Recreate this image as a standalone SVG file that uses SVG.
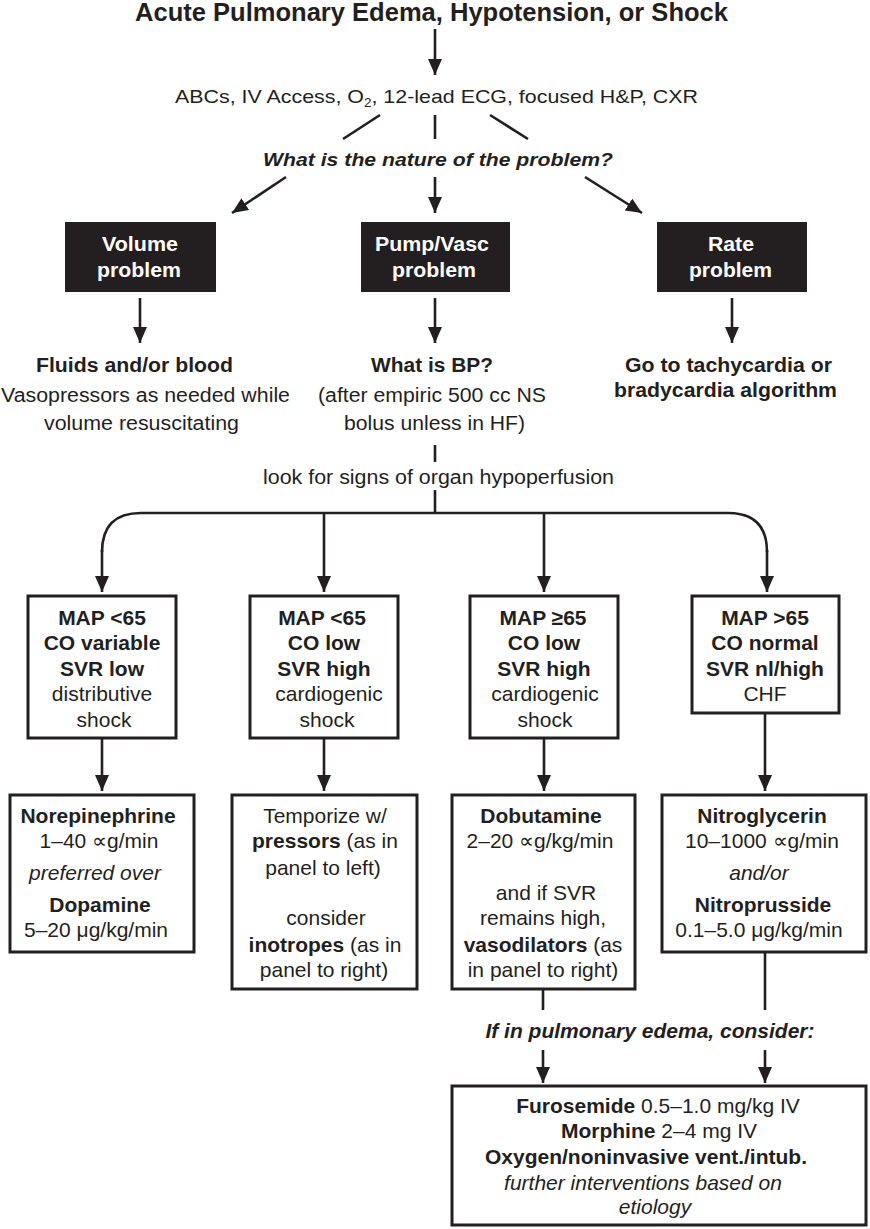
<svg xmlns="http://www.w3.org/2000/svg" width="870" height="1229" viewBox="0 0 870 1229">
<defs>
<style>
text{font-family:"Liberation Sans",Arial,sans-serif;fill:#231f20;}
.b{font-weight:bold;}
.i{font-style:italic;}
.w{fill:#ffffff;}
.c{text-anchor:middle;font-size:21px;}
.box{fill:#ffffff;stroke:#231f20;stroke-width:3;}
.dark{fill:#231f20;}
.ln{stroke:#231f20;stroke-width:2.6;fill:none;}
.ar{stroke:#231f20;stroke-width:2.6;fill:none;marker-end:url(#ah);}
</style>
<marker id="ah" viewBox="0 0 16 14" refX="16" refY="7" markerWidth="16" markerHeight="14" markerUnits="userSpaceOnUse" orient="auto">
<path d="M0,0 L16,7 L0,14 Z" fill="#231f20"/>
</marker>
</defs>
<rect width="870" height="1229" fill="#ffffff"/>

<g id="connectors">
<line class="ar" x1="435" y1="29" x2="435" y2="75"/>
<line class="ln" x1="380" y1="115" x2="343" y2="139"/>
<line class="ln" x1="435" y1="115" x2="435" y2="139"/>
<line class="ln" x1="490" y1="115" x2="528" y2="139"/>
<line class="ar" x1="286" y1="177" x2="232" y2="213"/>
<line class="ar" x1="435" y1="177" x2="435" y2="213"/>
<line class="ar" x1="585" y1="177" x2="642" y2="213"/>
<line class="ar" x1="140" y1="298" x2="140" y2="343"/>
<line class="ar" x1="435" y1="298" x2="435" y2="343"/>
<line class="ar" x1="732" y1="298" x2="732" y2="343"/>
<line class="ln" x1="435" y1="445" x2="435" y2="462"/>
<line class="ln" x1="435" y1="490" x2="435" y2="513"/>
<path class="ln" d="M102 552 Q102 513 141 513 L728 513 Q767 513 767 552"/>
<line class="ar" x1="102" y1="550" x2="102" y2="592"/>
<line class="ar" x1="324" y1="513" x2="324" y2="592"/>
<line class="ar" x1="544" y1="513" x2="544" y2="592"/>
<line class="ar" x1="767" y1="550" x2="767" y2="592"/>
<line class="ar" x1="102" y1="738" x2="102" y2="791"/>
<line class="ar" x1="324" y1="738" x2="324" y2="791"/>
<line class="ar" x1="544" y1="738" x2="544" y2="791"/>
<line class="ar" x1="765" y1="713" x2="765" y2="791"/>
<line class="ln" x1="543" y1="989" x2="543" y2="1010"/>
<line class="ln" x1="765" y1="952" x2="765" y2="1010"/>
<line class="ar" x1="543" y1="1050" x2="543" y2="1083"/>
<line class="ar" x1="765" y1="1050" x2="765" y2="1083"/>
</g>

<g id="title">
<text class="b" x="135" y="21" font-size="25" textLength="593" lengthAdjust="spacingAndGlyphs">Acute Pulmonary Edema, Hypotension, or Shock</text>
</g>

<g id="initial">
<text x="175" y="103" font-size="19" textLength="523" lengthAdjust="spacingAndGlyphs">ABCs, IV Access, O<tspan font-size="12" dy="4">2</tspan><tspan dy="-4">, 12-lead ECG, focused H&amp;P, CXR</tspan></text>
</g>

<g id="question">
<text class="b i" x="263" y="166" font-size="19" textLength="350" lengthAdjust="spacingAndGlyphs">What is the nature of the problem?</text>
</g>

<g id="volume-problem">
<rect class="dark" x="65" y="222" width="151" height="70"/>
<text class="b w" x="102" y="251" font-size="21" textLength="76" lengthAdjust="spacingAndGlyphs">Volume</text>
<text class="b w" x="97" y="277" font-size="21" textLength="84" lengthAdjust="spacingAndGlyphs">problem</text>
</g>

<g id="pump-problem">
<rect class="dark" x="361" y="222" width="149" height="70"/>
<text class="b w" x="375" y="251" font-size="21" textLength="114" lengthAdjust="spacingAndGlyphs">Pump/Vasc</text>
<text class="b w" x="392" y="277" font-size="21" textLength="84" lengthAdjust="spacingAndGlyphs">problem</text>
</g>

<g id="rate-problem">
<rect class="dark" x="657" y="222" width="150" height="70"/>
<text class="b w" x="708" y="251" font-size="21" textLength="46" lengthAdjust="spacingAndGlyphs">Rate</text>
<text class="b w" x="689" y="277" font-size="21" textLength="83" lengthAdjust="spacingAndGlyphs">problem</text>
</g>

<g id="fluids">
<text class="b" x="36" y="372" font-size="20" textLength="197" lengthAdjust="spacingAndGlyphs">Fluids and/or blood</text>
<text x="1" y="402" font-size="19.5" textLength="289" lengthAdjust="spacingAndGlyphs">Vasopressors as needed while</text>
<text x="44" y="430" font-size="19.5" textLength="195" lengthAdjust="spacingAndGlyphs">volume resuscitating</text>
</g>

<g id="what-bp">
<text class="b" x="371" y="372" font-size="20" textLength="122" lengthAdjust="spacingAndGlyphs">What is BP?</text>
<text x="318" y="402" font-size="19.5" textLength="228" lengthAdjust="spacingAndGlyphs">(after empiric 500 cc NS</text>
<text x="344" y="430" font-size="19.5" textLength="181" lengthAdjust="spacingAndGlyphs">bolus unless in HF)</text>
</g>

<g id="rate-go">
<text class="b" x="625" y="372" font-size="20" textLength="207" lengthAdjust="spacingAndGlyphs">Go to tachycardia or</text>
<text class="b" x="614" y="397" font-size="20" textLength="223" lengthAdjust="spacingAndGlyphs">bradycardia algorithm</text>
</g>

<g id="hypoperfusion">
<text x="263" y="484" font-size="19.5" textLength="351" lengthAdjust="spacingAndGlyphs">look for signs of organ hypoperfusion</text>
</g>

<g id="distributive">
<rect class="box" x="28" y="596" width="148" height="142"/>
<text class="c b" x="102" y="625">MAP &lt;65</text>
<text class="c b" x="102" y="650">CO variable</text>
<text class="c b" x="102" y="676">SVR low</text>
<text class="c" x="102" y="701">distributive</text>
<text class="c" x="104" y="727">shock</text>
</g>

<g id="cardiogenic1">
<rect class="box" x="250" y="596" width="148" height="142"/>
<text class="c b" x="322" y="625">MAP &lt;65</text>
<text class="c b" x="324" y="650">CO low</text>
<text class="c b" x="324" y="676">SVR high</text>
<text class="c" x="329" y="701">cardiogenic</text>
<text class="c" x="327" y="727">shock</text>
</g>

<g id="cardiogenic2">
<rect class="box" x="470" y="596" width="148" height="142"/>
<text class="c b" x="543" y="625">MAP ≥65</text>
<text class="c b" x="544" y="650">CO low</text>
<text class="c b" x="544" y="676">SVR high</text>
<text class="c" x="545" y="701">cardiogenic</text>
<text class="c" x="545" y="727">shock</text>
</g>

<g id="chf">
<rect class="box" x="692" y="596" width="147" height="117"/>
<text class="c b" x="765" y="625">MAP &gt;65</text>
<text class="c b" x="765" y="650">CO normal</text>
<text class="c b" x="765" y="676">SVR nl/high</text>
<text class="c" x="765" y="701">CHF</text>
</g>

<g id="norepinephrine">
<rect class="box" x="10" y="795" width="184" height="157"/>
<text class="c b" x="98" y="823">Norepinephrine</text>
<text class="c" x="99" y="848">1–40 ∝g/min</text>
<text class="c i" x="95" y="880">preferred over</text>
<text class="c b" x="100" y="912">Dopamine</text>
<text class="c" x="96" y="937">5–20 μg/kg/min</text>
</g>

<g id="temporize">
<rect class="box" x="232" y="795" width="185" height="194"/>
<text class="c" x="325" y="823">Temporize w/</text>
<text class="c" x="325" y="848"><tspan class="b">pressors</tspan> (as in</text>
<text class="c" x="323" y="875">panel to left)</text>
<text class="c" x="326" y="925">consider</text>
<text class="c" x="325" y="952"><tspan class="b">inotropes</tspan> (as in</text>
<text class="c" x="324" y="977">panel to right)</text>
</g>

<g id="dobutamine">
<rect class="box" x="452" y="795" width="183" height="194"/>
<text class="c b" x="541" y="823">Dobutamine</text>
<text class="c" x="540" y="848">2–20 ∝g/kg/min</text>
<text class="c" x="546" y="900">and if SVR</text>
<text class="c" x="543" y="925">remains high,</text>
<text class="c" x="543" y="952"><tspan class="b">vasodilators</tspan> (as</text>
<text class="c" x="543" y="977">in panel to right)</text>
</g>

<g id="nitroglycerin">
<rect class="box" x="662" y="795" width="204" height="157"/>
<text class="c b" x="762" y="823">Nitroglycerin</text>
<text class="c" x="762" y="848">10–1000 ∝g/min</text>
<text class="c i" x="759" y="880">and/or</text>
<text class="c b" x="763" y="912">Nitroprusside</text>
<text class="c" x="759" y="937">0.1–5.0 μg/kg/min</text>
</g>

<g id="pulmonary-edema">
<text class="c b i" x="650" y="1038">If in pulmonary edema, consider:</text>
</g>

<g id="furosemide">
<rect class="box" x="452" y="1086" width="414" height="139"/>
<text class="c" x="658" y="1113"><tspan class="b">Furosemide</tspan>  0.5–1.0 mg/kg IV</text>
<text class="c" x="659" y="1138"><tspan class="b">Morphine</tspan>  2–4 mg IV</text>
<text class="c b" x="646" y="1164">Oxygen/noninvasive vent./intub.</text>
<text class="c i" x="643" y="1190">further interventions based on</text>
<text class="c i" x="655" y="1214">etiology</text>
</g>
</svg>
